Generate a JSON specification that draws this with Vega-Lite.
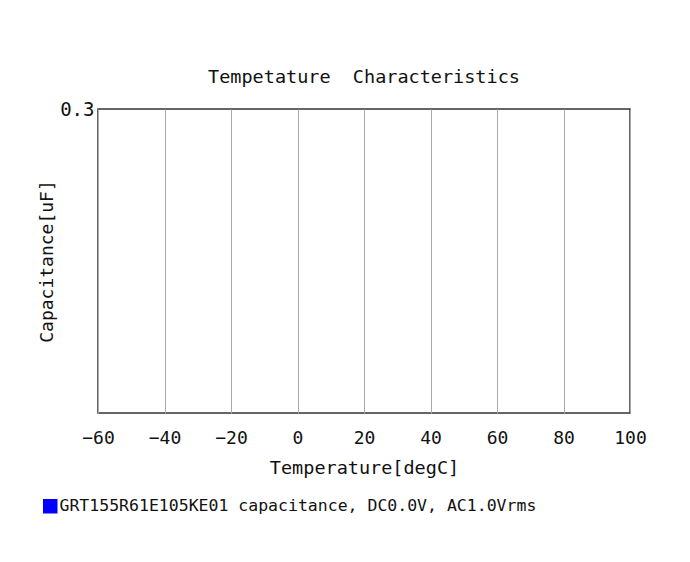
{
  "$schema": "https://vega.github.io/schema/vega-lite/v6.json",
  "autosize": "none",
  "padding": {"left": 98, "top": 109, "right": 60, "bottom": 149},
  "width": 532,
  "height": 304,
  "background": "white",
  "title": {
    "text": "Tempetature\u00a0\u00a0Characteristics",
    "font": "DejaVu Sans Mono",
    "fontSize": 18.5,
    "fontWeight": "normal",
    "color": "#111",
    "offset": 14,
    "anchor": "middle"
  },
  "data": {
    "values": [
      {"temperature": null, "capacitance": null, "series": "GRT155R61E105KE01 capacitance, DC0.0V, AC1.0Vrms"}
    ]
  },
  "mark": {"type": "square", "size": 30},
  "encoding": {
    "x": {
      "field": "temperature",
      "type": "quantitative",
      "title": "Temperature[degC]",
      "scale": {"domain": [-60, 100], "nice": false, "zero": false},
      "axis": {
        "values": [-60, -40, -20, 0, 20, 40, 60, 80, 100],
        "grid": true,
        "gridColor": "#aaaaaa",
        "gridWidth": 1,
        "gridOpacity": 1,
        "domain": false,
        "ticks": false,
        "labelFlush": false,
        "labelOverlap": false,
        "labelPadding": 16,
        "labelFont": "DejaVu Sans Mono",
        "labelFontSize": 18,
        "labelColor": "#111",
        "titleFont": "DejaVu Sans Mono",
        "titleFontSize": 18.5,
        "titleFontWeight": "normal",
        "titleColor": "#111",
        "titlePadding": 11
      }
    },
    "y": {
      "field": "capacitance",
      "type": "quantitative",
      "title": "Capacitance[uF]",
      "scale": {"domain": [0, 0.3], "nice": false},
      "axis": {
        "values": [0.3],
        "format": ".1f",
        "grid": false,
        "domain": false,
        "ticks": false,
        "labelFlush": false,
        "labelPadding": 4,
        "labelFont": "DejaVu Sans Mono",
        "labelFontSize": 19,
        "labelColor": "#111",
        "titleFont": "DejaVu Sans Mono",
        "titleFontSize": 18,
        "titleFontWeight": "normal",
        "titleColor": "#111",
        "titlePadding": 3
      }
    },
    "color": {
      "field": "series",
      "type": "nominal",
      "scale": {"domain": ["GRT155R61E105KE01 capacitance, DC0.0V, AC1.0Vrms"], "range": ["#0000ff"]},
      "legend": {
        "title": null,
        "orient": "none",
        "legendX": -56,
        "legendY": 389,
        "symbolType": "square",
        "symbolSize": 210,
        "symbolOpacity": 1,
        "symbolStrokeWidth": 0,
        "labelFont": "DejaVu Sans Mono",
        "labelFontSize": 16.5,
        "labelColor": "#111",
        "labelOffset": 1,
        "labelLimit": 700
      }
    }
  },
  "config": {
    "view": {"stroke": "#333333", "strokeWidth": 1.5}
  }
}
